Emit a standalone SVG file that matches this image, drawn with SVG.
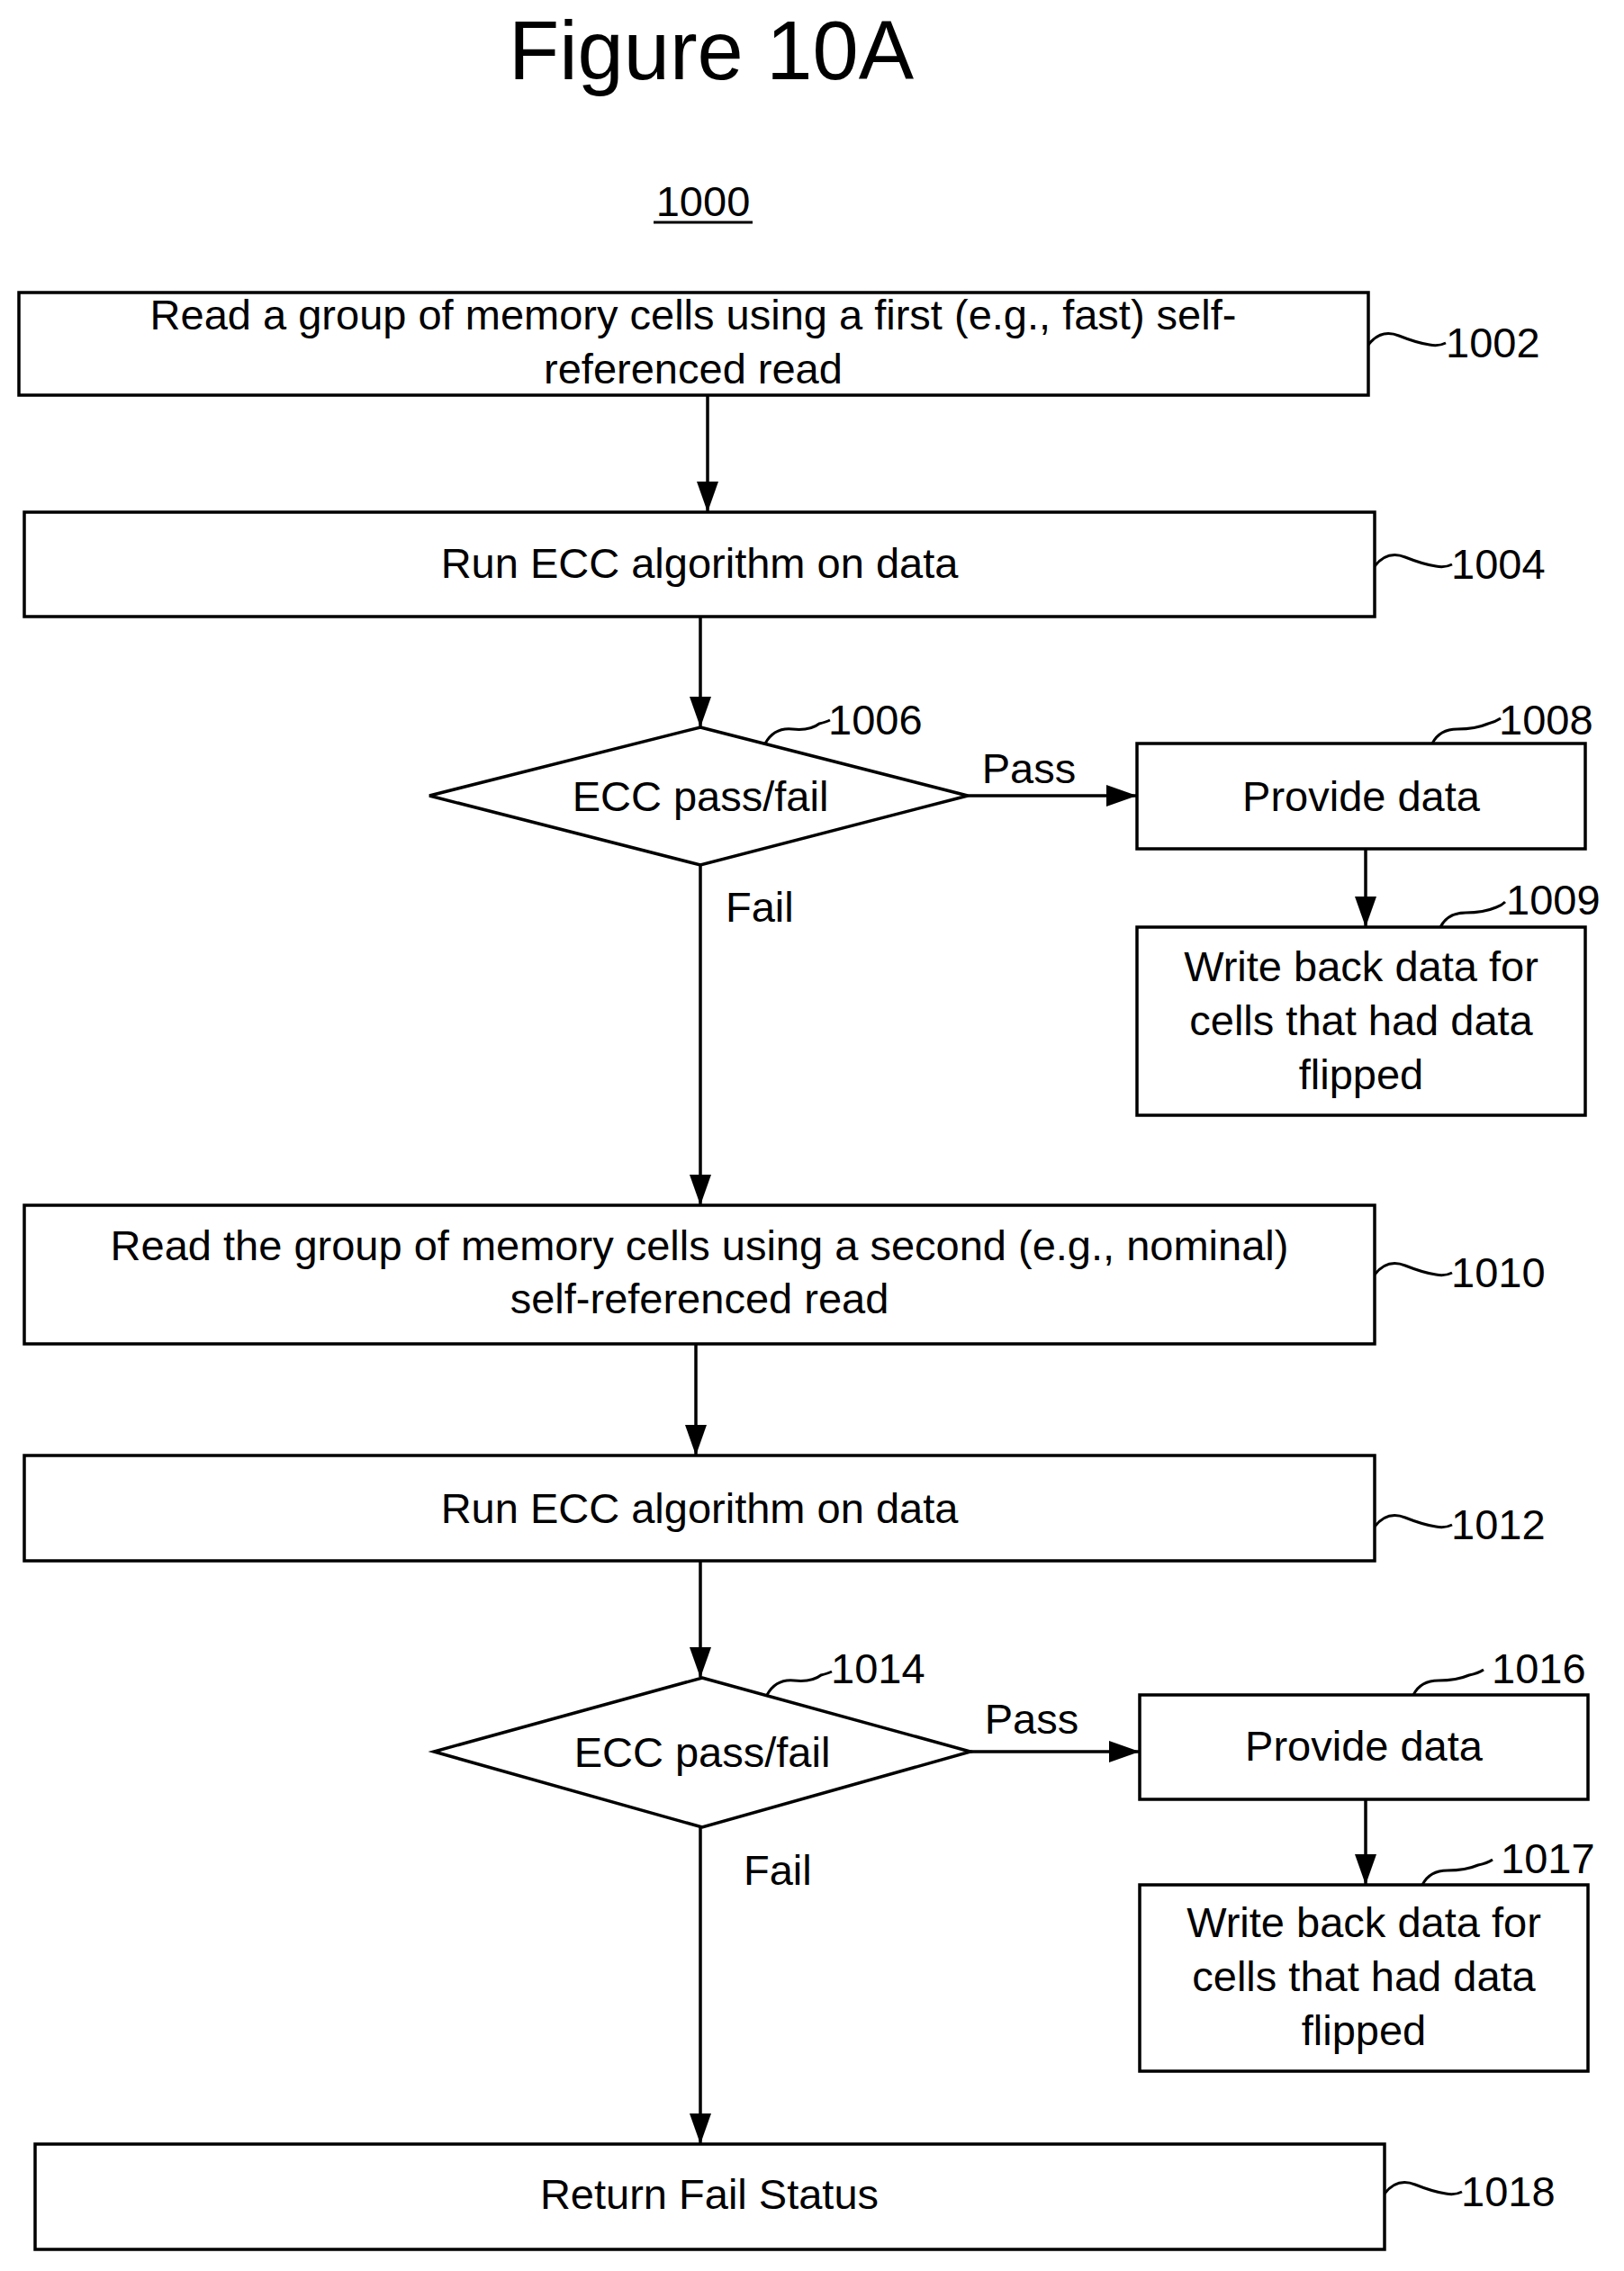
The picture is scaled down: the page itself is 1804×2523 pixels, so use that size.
<svg xmlns="http://www.w3.org/2000/svg" width="1804" height="2523" viewBox="0 0 1804 2523">
<defs>
<marker id="ah" markerWidth="34" markerHeight="24" refX="33" refY="12" orient="auto" markerUnits="userSpaceOnUse" viewBox="0 0 34 24"><path d="M0,0 L34,12 L0,24 z" fill="#000"/></marker>
<style>
text{font-family:"Liberation Sans",Arial,sans-serif;font-size:47px;fill:#000}
.c{text-anchor:middle}
.b{fill:#fff;stroke:#000;stroke-width:3.5}
.l{fill:none;stroke:#000;stroke-width:3}
.a{fill:none;stroke:#000;stroke-width:3.5;marker-end:url(#ah)}
</style>
</defs>
<rect width="1804" height="2523" fill="#fff"/>
<text x="790" y="88" class="c" style="font-size:92px">Figure 10A</text>
<text x="781" y="240" class="c">1000</text>
<line x1="726" y1="247" x2="836" y2="247" stroke="#000" stroke-width="3"/>

<g id="connectors">
<line class="a" x1="786" y1="439" x2="786" y2="568"/>
<line class="a" x1="778" y1="685" x2="778" y2="807"/>
<line class="a" x1="1075" y1="884" x2="1262" y2="884"/>
<line class="a" x1="1517" y1="943" x2="1517" y2="1029"/>
<line class="a" x1="778" y1="961" x2="778" y2="1338"/>
<line class="a" x1="773" y1="1493" x2="773" y2="1616"/>
<line class="a" x1="778" y1="1734" x2="778" y2="1863"/>
<line class="a" x1="1078" y1="1946" x2="1265" y2="1946"/>
<line class="a" x1="1517" y1="1999" x2="1517" y2="2093"/>
<line class="a" x1="778" y1="2030" x2="778" y2="2381"/>
<text x="1143" y="870" class="c">Pass</text>
<text x="806" y="1024">Fail</text>
<text x="1146" y="1926" class="c">Pass</text>
<text x="826" y="2094">Fail</text>
</g>

<g id="n1002">
<rect class="b" x="21" y="325" width="1499" height="114"/>
<text x="770" y="366" class="c">Read a group of memory cells using a first (e.g., fast) self-</text>
<text x="770" y="426" class="c">referenced read</text>
<path class="l" d="M1520,383 q14,-18 34,-10 t34,10 q10,2 18,-2"/>
<text x="1606" y="397">1002</text>
</g>
<g id="n1004">
<rect class="b" x="27" y="569" width="1500" height="116"/>
<text x="777" y="642" class="c">Run ECC algorithm on data</text>
<path class="l" d="M1527,629 q14,-18 34,-10 t34,10 q10,2 18,-2"/>
<text x="1612" y="643">1004</text>
</g>
<g id="n1006">
<polygon class="b" points="778,808 1075,884 778,961 477,884"/>
<text x="778" y="901" class="c">ECC pass/fail</text>
<path class="l" d="M850,826 q10,-18 30,-16 t30,-6 q8,-2 12,-4"/>
<text x="920" y="816">1006</text>
</g>
<g id="n1008">
<rect class="b" x="1263" y="826" width="498" height="117"/>
<text x="1512" y="901" class="c">Provide data</text>
<path class="l" d="M1591,826 q8,-16 28,-16 t34,-6 q8,-2 14,-6"/>
<text x="1665" y="816">1008</text>
</g>
<g id="n1009">
<rect class="b" x="1263" y="1030" width="498" height="209"/>
<text x="1512" y="1090" class="c">Write back data for</text>
<text x="1512" y="1150" class="c">cells that had data</text>
<text x="1512" y="1210" class="c">flipped</text>
<path class="l" d="M1600,1030 q8,-16 28,-16 t34,-6 q6,-2 10,-6"/>
<text x="1673" y="1016">1009</text>
</g>
<g id="n1010">
<rect class="b" x="27" y="1339" width="1500" height="154"/>
<text x="777" y="1400" class="c">Read the group of memory cells using a second (e.g., nominal)</text>
<text x="777" y="1459" class="c">self-referenced read</text>
<path class="l" d="M1527,1416 q14,-18 34,-10 t34,10 q10,2 18,-2"/>
<text x="1612" y="1430">1010</text>
</g>
<g id="n1012">
<rect class="b" x="27" y="1617" width="1500" height="117"/>
<text x="777" y="1692" class="c">Run ECC algorithm on data</text>
<path class="l" d="M1527,1696 q14,-18 34,-10 t34,10 q10,2 18,-2"/>
<text x="1612" y="1710">1012</text>
</g>
<g id="n1014">
<polygon class="b" points="780,1864 1078,1946 780,2030 482,1946"/>
<text x="780" y="1963" class="c">ECC pass/fail</text>
<path class="l" d="M852,1883 q10,-18 30,-16 t30,-6 q8,-2 12,-4"/>
<text x="923" y="1870">1014</text>
</g>
<g id="n1016">
<rect class="b" x="1266" y="1883" width="498" height="116"/>
<text x="1515" y="1956" class="c">Provide data</text>
<path class="l" d="M1570,1883 q8,-16 28,-16 t34,-6 q10,-2 16,-6"/>
<text x="1657" y="1870">1016</text>
</g>
<g id="n1017">
<rect class="b" x="1266" y="2094" width="498" height="207"/>
<text x="1515" y="2152" class="c">Write back data for</text>
<text x="1515" y="2212" class="c">cells that had data</text>
<text x="1515" y="2272" class="c">flipped</text>
<path class="l" d="M1580,2094 q8,-16 28,-16 t34,-6 q10,-2 16,-6"/>
<text x="1667" y="2081">1017</text>
</g>
<g id="n1018">
<rect class="b" x="39" y="2382" width="1499" height="117"/>
<text x="788" y="2454" class="c">Return Fail Status</text>
<path class="l" d="M1538,2437 q14,-18 34,-10 t34,10 q10,2 18,-2"/>
<text x="1623" y="2451">1018</text>
</g>
</svg>
